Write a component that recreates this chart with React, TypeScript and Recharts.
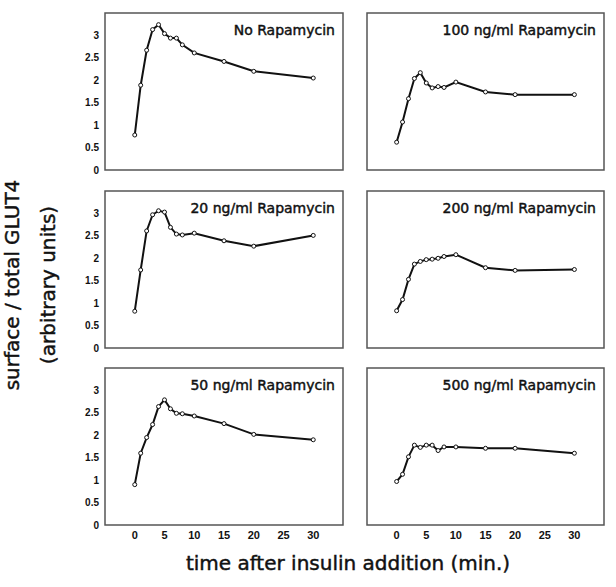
import React from 'react'
import { LineChart, Line, XAxis, YAxis, ReferenceArea } from 'recharts'

const times = [0, 1, 2, 3, 4, 5, 6, 7, 8, 10, 15, 20, 30]
const xTicks = [0, 5, 10, 15, 20, 25, 30]
const yTicks = [0, 0.5, 1, 1.5, 2, 2.5, 3]

const noRapamycin = [0.78, 1.89, 2.67, 3.13, 3.24, 3.04, 2.94, 2.94, 2.79, 2.61, 2.42, 2.2, 2.05]
const rapa20 = [0.82, 1.74, 2.61, 2.97, 3.06, 3.03, 2.69, 2.54, 2.52, 2.56, 2.39, 2.27, 2.51]
const rapa50 = [0.9, 1.6, 1.95, 2.24, 2.64, 2.79, 2.59, 2.49, 2.48, 2.43, 2.26, 2.02, 1.9]
const rapa100 = [0.62, 1.07, 1.59, 2.04, 2.17, 1.94, 1.83, 1.86, 1.84, 1.96, 1.74, 1.68, 1.68]
const rapa200 = [0.83, 1.08, 1.53, 1.87, 1.93, 1.97, 1.98, 2.0, 2.04, 2.08, 1.79, 1.73, 1.75]
const rapa500 = [0.97, 1.13, 1.52, 1.78, 1.73, 1.78, 1.78, 1.66, 1.74, 1.74, 1.71, 1.71, 1.6]

const panels = [
  { title: 'No Rapamycin', values: noRapamycin, col: 0, row: 0 },
  { title: '100 ng/ml Rapamycin', values: rapa100, col: 1, row: 0 },
  { title: '20 ng/ml Rapamycin', values: rapa20, col: 0, row: 1 },
  { title: '200 ng/ml Rapamycin', values: rapa200, col: 1, row: 1 },
  { title: '50 ng/ml Rapamycin', values: rapa50, col: 0, row: 2 },
  { title: '500 ng/ml Rapamycin', values: rapa500, col: 1, row: 2 },
]

const boxLeft = [105, 367]
const boxWidth = [238, 237]
const boxTop = [13, 191, 368]
const boxHeight = 157
const titleFont = '"DejaVu Sans", sans-serif'
const tickFont = '"Liberation Sans", Arial, sans-serif'
const heavy = { WebkitTextStroke: '0.45px #111' } as React.CSSProperties

function Panel({ title, values, col, row }: { title: string; values: number[]; col: number; row: number }) {
  const data = times.map((t, i) => ({ t, v: values[i] }))
  const showY = col === 0
  const showX = row === 2
  const yAxisW = 40
  const leftPad = showY ? yAxisW : 2
  const bottomPad = showX ? 25 : 8
  const width = leftPad + boxWidth[col] + 2
  const height = 2 + boxHeight + bottomPad
  const right = boxLeft[col] + boxWidth[col]

  return (
    <>
      <div style={{ position: 'absolute', left: boxLeft[col] - leftPad, top: boxTop[row] - 2 }}>
        <LineChart
          width={width}
          height={height}
          data={data}
          margin={{ top: 2, right: 2, left: showY ? 0 : 2, bottom: showX ? 0 : 8 }}
        >
          <XAxis
            type="number"
            dataKey="t"
            domain={[-5, 35]}
            ticks={xTicks}
            interval={0}
            hide={!showX}
            height={25}
            axisLine={false}
            tickLine={false}
            tickSize={4}
            tickMargin={2}
            tick={{ fontSize: 11, fontWeight: 'bold', fill: '#111', fontFamily: tickFont }}
          />
          <YAxis
            type="number"
            domain={[0, 3.5]}
            ticks={yTicks}
            interval={0}
            hide={!showY}
            width={yAxisW}
            axisLine={false}
            tickLine={false}
            tickSize={4}
            tickMargin={2}
            tick={{ fontSize: 10, fontWeight: 'bold', fill: '#111', fontFamily: tickFont }}
          />
          <ReferenceArea x1={-5} x2={35} y1={0} y2={3.5} fill="none" stroke="#555" strokeWidth={1.5} ifOverflow="visible" />
          <Line
            type="linear"
            dataKey="v"
            stroke="#111"
            strokeWidth={2}
            dot={{ r: 2, fill: '#fff', stroke: '#111', strokeWidth: 1 }}
            activeDot={false}
            isAnimationActive={false}
          />
        </LineChart>
      </div>
      <div
        style={{
          position: 'absolute',
          right: 616 - (right - 8),
          top: boxTop[row] + 10,
          fontFamily: titleFont,
          fontSize: 14,
          lineHeight: '14px',
          color: '#111',
          whiteSpace: 'nowrap',
          ...heavy,
        }}
      >
        {title}
      </div>
    </>
  )
}

export default function App() {
  return (
    <div style={{ position: 'absolute', left: 0, top: 0, width: 616, height: 587, background: '#fff', overflow: 'hidden' }}>
      {panels.map((p) => (
        <Panel key={p.title} {...p} />
      ))}
      <div
        style={{
          position: 'absolute',
          left: 34 - 150,
          top: 285 - 40,
          width: 300,
          height: 80,
          transform: 'rotate(-90deg)',
          fontFamily: titleFont,
          fontSize: 20,
          lineHeight: '36px',
          color: '#111',
          textAlign: 'center',
          ...heavy,
        }}
      >
        <div>surface / total GLUT4</div>
        <div>(arbitrary units)</div>
      </div>
      <div
        style={{
          position: 'absolute',
          left: 148,
          top: 551,
          width: 400,
          fontFamily: titleFont,
          fontSize: 20,
          lineHeight: '24px',
          color: '#111',
          textAlign: 'center',
          ...heavy,
        }}
      >
        time after insulin addition (min.)
      </div>
    </div>
  )
}
